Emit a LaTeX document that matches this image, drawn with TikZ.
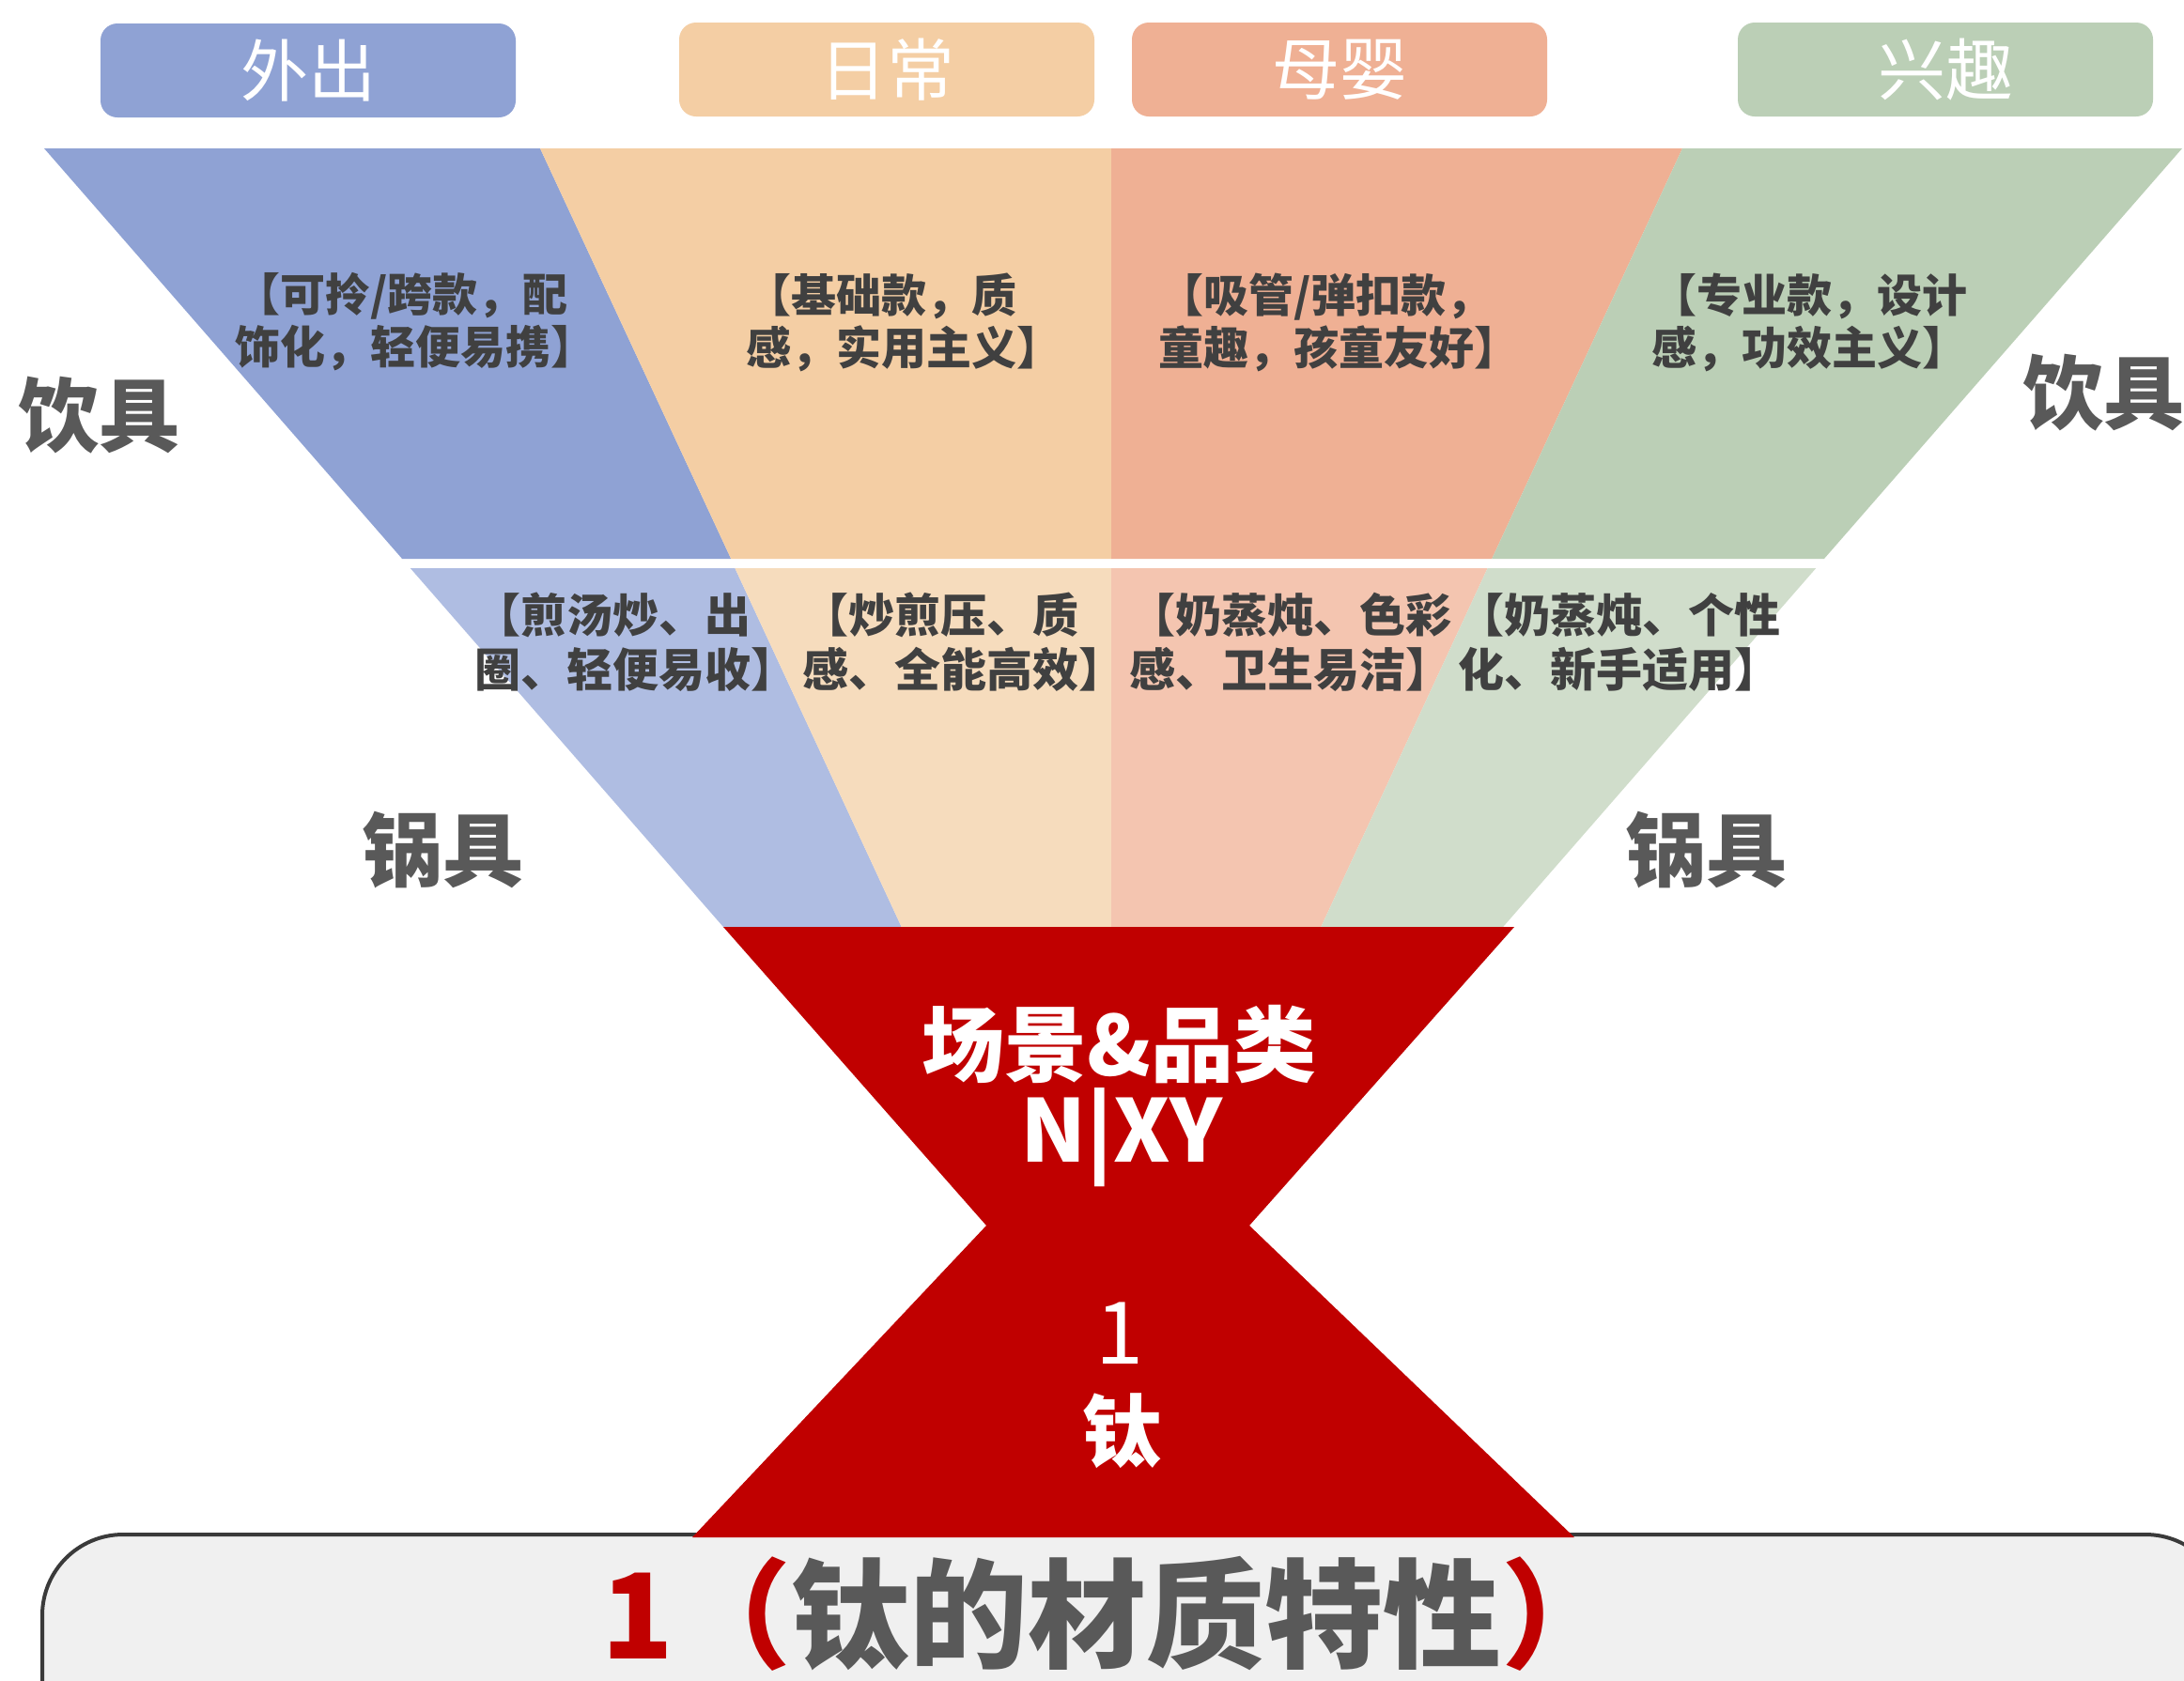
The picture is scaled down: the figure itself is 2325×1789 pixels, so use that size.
\documentclass[tikz,border=0pt]{standalone}
\usepackage{fontspec}
\setmainfont{Noto Sans CJK SC}
\definecolor{cBlueU}{HTML}{8FA2D4}
\definecolor{cBlueL}{HTML}{AFBDE2}
\definecolor{cOrU}{HTML}{F4CEA4}
\definecolor{cOrL}{HTML}{F6DCBD}
\definecolor{cSaU}{HTML}{EFB094}
\definecolor{cSaL}{HTML}{F4C5B0}
\definecolor{cGrU}{HTML}{BBCFB6}
\definecolor{cGrL}{HTML}{D0DDCB}
\definecolor{cRed}{HTML}{C00000}
\definecolor{cTxt}{HTML}{404040}
\definecolor{cSide}{HTML}{595959}
\definecolor{cBoxFill}{HTML}{F0F0F0}
\definecolor{cBoxLine}{HTML}{3A3A3A}
\tikzset{
  topbox/.style={rounded corners=18, minimum width=442, minimum height=100, inner sep=0, text=white, font=\fontsize{72}{80}\selectfont},
  bandtxt/.style={anchor=west, align=left, inner sep=0, text=cTxt, font=\fontsize{48}{56}\selectfont\bfseries},
  bandtxtl/.style={bandtxt, font=\fontsize{49}{58}\selectfont\bfseries},
  sidetxt/.style={inner sep=0, text=cSide, font=\fontsize{86}{90}\selectfont\bfseries},
  redtxt/.style={inner sep=0, text=white},
}
\begin{document}
\begin{tikzpicture}[x=1pt,y=-1pt]
\useasboundingbox (0,0) rectangle (2325,1789);
\clip (0,0) rectangle (2325,1789);
\fill[white] (0,0) rectangle (2325,1789);

% top category boxes
\node[topbox, fill=cBlueU] (b1) at (328,75) {外出};
\node[topbox, fill=cOrU] (b2) at (944,74) {日常};
\node[topbox, fill=cSaU] (b3) at (1426,74) {母婴};
\node[topbox, fill=cGrU] (b4) at (2071,74) {兴趣};

% upper band
\fill[cBlueU] (47,158) -- (575,158) -- (778.2,595) -- (428.1,595) -- cycle;
\fill[cOrU] (575,158) -- (1183,158) -- (1183,595) -- (778.2,595) -- cycle;
\fill[cSaU] (1183,158) -- (1791,158) -- (1588.2,595) -- (1183,595) -- cycle;
\fill[cGrU] (1791,158) -- (2323,158) -- (1941.9,595) -- (1588.2,595) -- cycle;

% lower band
\fill[cBlueL] (436.8,605) -- (782.4,605) -- (959.7,987) -- (770,987) -- cycle;
\fill[cOrL] (782.4,605) -- (1183,605) -- (1183,987) -- (959.7,987) -- cycle;
\fill[cSaL] (1183,605) -- (1583.6,605) -- (1406.3,987) -- (1183,987) -- cycle;
\fill[cGrL] (1583.6,605) -- (1933.2,605) -- (1600.1,987) -- (1406.3,987) -- cycle;

% bottom rounded box
\draw[draw=cBoxLine, line width=4, fill=cBoxFill, rounded corners=86] (45,1634) rectangle (2370,1960);

% red hourglass
\fill[cRed] (770,987) -- (1612,987) -- (1330,1305) -- (1676,1637) -- (737,1637) -- (1050,1305) -- cycle;

% band texts
\node[bandtxt] (u1) at (250,343) {【可拎/跨款，配\\饰化，轻便易携】};
\node[bandtxt] (u2) at (794,343) {【基础款，质\\感，实用主义】};
\node[bandtxt] (u3) at (1233,343) {【吸管/弹扣款，\\童趣，孩童友好】};
\node[bandtxt] (u4) at (1758,343) {【专业款，设计\\感，功效主义】};
\node[bandtxtl] (l1) at (505,684) {【煎汤炒、出\\圈、轻便易收】};
\node[bandtxtl] (l2) at (854,684) {【炒煎压、质\\感、全能高效】};
\node[bandtxtl] (l3) at (1202,684) {【奶蒸炖、色彩\\感、卫生易洁】};
\node[bandtxtl] (l4) at (1552,684) {【奶蒸炖、个性\\化、新手适用】};

% side labels
\node[sidetxt] (s1) at (105,442) {饮具};
\node[sidetxt] (s2) at (2239,418) {饮具};
\node[sidetxt] (s3) at (471,905) {锅具};
\node[sidetxt] (s4) at (1816,905) {锅具};

% red texts
\node[redtxt, font=\fontsize{88}{92}\selectfont\bfseries] (r1) at (1191,1112) {场景\&品类};
\node[redtxt, font=\fontsize{92}{96}\selectfont\bfseries] (r2) at (1194,1211) {N|XY};
\node[redtxt, font=\fontsize{92}{96}\selectfont] (r3) at (1192,1420) {1};
\node[redtxt, font=\fontsize{84}{90}\selectfont\bfseries] (r4) at (1194,1524) {钛};

% bottom title
\node[inner sep=0, anchor=west, font=\fontsize{126}{130}\selectfont\bfseries] (t) at (640,1718)
  {\textcolor{cRed}{1（}\textcolor{cSide}{钛的材质特性}\textcolor{cRed}{）}};
\end{tikzpicture}
\end{document}
